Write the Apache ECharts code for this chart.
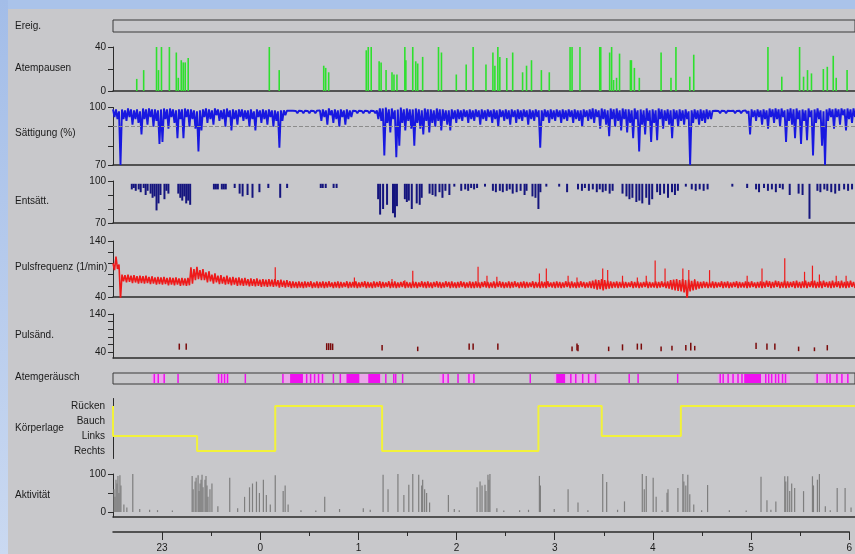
<!DOCTYPE html>
<html>
<head>
<meta charset="utf-8">
<script src="https://cdn.jsdelivr.net/npm/echarts@6/dist/echarts.min.js"></script>
<style>
    html, body { margin: 0; padding: 0; }
    #main { width: 855px; height: 554px; }
</style>
</head>
<body>
<div id="main"></div>
<script>
// Zeit in Stunden (24 = 0 Uhr, 25 = 1 Uhr ...)
const timeMin = 22.5;
const timeMax = 30;
const hourTicks = [23, 24, 25, 26, 27, 28, 29, 30];
const halfHourTicks = [23.5, 24.5, 25.5, 26.5, 27.5, 28.5, 29.5];

// Atempausen [Zeit, Dauer]
const apneaData = [
    [22.74, 11], [22.81, 19], [22.94, 40], [22.96, 19], [22.99, 40], [23.07, 40], [23.14, 35], [23.16, 12],
    [23.19, 28], [23.21, 26], [23.23, 26], [23.26, 30], [24.08, 40], [24.18, 19], [24.63, 23], [24.65, 21],
    [24.68, 17], [25.06, 37], [25.08, 40], [25.11, 40], [25.19, 27], [25.21, 26], [25.26, 19], [25.32, 17],
    [25.34, 15], [25.37, 15], [25.45, 40], [25.46, 28], [25.53, 40], [25.56, 27], [25.58, 25], [25.63, 31],
    [25.79, 40], [25.82, 35], [25.97, 15], [26.07, 24], [26.14, 40], [26.27, 24], [26.34, 35], [26.36, 23],
    [26.39, 40], [26.41, 31], [26.48, 30], [26.54, 35], [26.64, 17], [26.68, 23], [26.73, 28], [26.83, 19],
    [26.91, 17], [27.12, 40], [27.14, 40], [27.22, 40], [27.42, 40], [27.43, 40], [27.52, 35], [27.54, 40],
    [27.56, 10], [27.59, 12], [27.62, 34], [27.73, 28], [27.74, 28], [27.77, 21], [27.82, 12], [28.04, 35],
    [28.14, 12], [28.19, 40], [28.33, 13], [28.37, 33], [29.12, 40], [29.26, 13], [29.44, 40], [29.48, 13],
    [29.52, 19], [29.56, 16], [29.68, 20], [29.72, 22], [29.78, 32], [29.81, 12], [29.92, 19]
];

// Sättigung (%): Höchst- und Tiefstwert je Abschnitt von 1/33 h ab 22:30
const sampleStart = 22.5;
const sampleStep = 1 / 33;
const satHigh = [
    99, 99, 98, 99, 98.5, 99.5, 99, 98.5, 99, 98,
    99.5, 99, 99.5, 99, 99, 98.5, 99, 99.5, 99, 99.5,
    99, 98.5, 99, 99, 99.5, 99, 99, 98.5, 98, 98.5,
    99, 99.5, 99, 98.5, 99.5, 99, 98.5, 99, 99.5, 98.5,
    99, 98.5, 99, 99, 98.5, 98.5, 99, 98, 99, 98.5,
    99, 98.5, 99, 98.5, 98.5, 98, 98.5, 98.5, 98.3, 98.3,
    98.3, 98.2, 98.3, 98.2, 98.3, 98.2, 98.3, 98.2, 98.3, 98.5,
    99, 98.5, 99.5, 98.5, 99, 98.5, 99, 98.5, 99, 98.5,
    98.3, 98.2, 98.3, 98.2, 98.3, 98.2, 98.3, 98.2, 98.5, 99.5,
    99.5, 100, 99, 99.5, 98.5, 99, 100, 99, 99.5, 99,
    99, 99.5, 99, 98.5, 99.5, 99, 99, 98.5, 99.5, 99,
    99, 98.5, 98.5, 99, 98.5, 99, 98.5, 99, 98.5, 99,
    98.5, 99, 98.5, 99, 98.5, 99, 98.5, 99, 98.5, 99,
    98.5, 99, 98.5, 99, 98.5, 99, 98.5, 99, 98.5, 99,
    98.5, 99, 98.5, 98.5, 99, 98.5, 99, 98.5, 99, 98.5,
    99, 98.5, 99, 98.5, 99, 98.5, 98.5, 99, 98.5, 99,
    99.5, 99, 98.5, 99.5, 99, 98.5, 99.5, 99, 99.5, 98.5,
    99.5, 99, 99, 98.5, 99.5, 98.5, 99, 98.5, 99.5, 98.5,
    99, 98.5, 99.5, 99, 98.5, 99, 98.5, 99, 98.5, 99,
    98.5, 99, 98, 98.5, 99, 98.5, 99, 98.5, 99, 98.5,
    98.2, 98.3, 98.2, 98.3, 98.2, 98.3, 98.2, 98.3, 98.2, 98.3,
    98.2, 98.5, 98.2, 99, 98.5, 99, 98.5, 99, 98.5, 99.5,
    99, 99.5, 99, 99.5, 98.5, 99, 99.5, 99, 99.5, 98.5,
    99, 98.5, 99.5, 98.5, 99, 99.5, 98.5, 98, 99, 99.5,
    99, 99.5, 99, 99.5, 99, 99.5, 99, 99.5
];
const satLow = [
    95, 94, 70, 94, 93, 95, 91, 94, 92, 86,
    94, 91, 95, 90, 93, 81, 82, 94, 89, 95,
    92, 84, 94, 84, 95, 90, 94, 89, 77, 88,
    95, 92, 94, 91, 96, 93, 94, 90, 95, 88,
    94, 91, 95, 93, 94, 90, 94, 88, 95, 92,
    94, 91, 95, 90, 93, 79, 93, 96, 97.3, 97.3,
    97.3, 97, 97.3, 97, 97.3, 97, 97.3, 97, 97.3, 93,
    95, 91, 96, 92, 94, 90, 95, 91, 94, 95,
    97.3, 97, 97.3, 97, 97.3, 97, 97.3, 97, 94, 93,
    75, 92, 87, 94, 74, 80, 92, 88, 93, 89,
    80, 92, 89, 86, 93, 87, 92, 90, 93, 88,
    93, 91, 88, 94, 92, 94, 93, 95, 92, 94,
    93, 95, 91, 94, 93, 95, 92, 94, 90, 95,
    93, 94, 91, 95, 92, 94, 93, 95, 91, 94,
    93, 95, 79, 93, 95, 92, 94, 93, 95, 92,
    94, 93, 95, 92, 94, 93, 90, 95, 93, 94,
    92, 95, 89, 94, 91, 85, 94, 90, 93, 88,
    94, 87, 92, 84, 94, 77, 91, 86, 93, 82,
    92, 83, 94, 89, 93, 91, 84, 94, 90, 93,
    91, 94, 70, 92, 94, 91, 93, 92, 94, 94,
    97.3, 97.3, 97, 97.3, 97, 97.3, 97.3, 97, 97.3, 97,
    97.3, 97, 86, 95, 93, 95, 91, 94, 89, 95,
    92, 94, 90, 95, 82, 93, 91, 84, 94, 81,
    93, 83, 95, 75, 92, 94, 80, 70, 93, 95,
    89, 95, 91, 96, 88, 94, 92, 95
];
const satLimit = 90;

// Entsättigungen [Zeit, Nadir]
const desatTop = 98;
const desatData = [
    [22.69, 94], [22.71, 95], [22.73, 93], [22.76, 94], [22.78, 92], [22.81, 95], [22.83, 90], [22.85, 93],
    [22.88, 91], [22.90, 88], [22.92, 89], [22.94, 79], [22.96, 84], [22.98, 90], [23.02, 87], [23.04, 93],
    [23.06, 91], [23.16, 91], [23.18, 88], [23.20, 86], [23.22, 89], [23.24, 84], [23.26, 86], [23.28, 83],
    [23.52, 94], [23.54, 94], [23.56, 94], [23.60, 94], [23.62, 94], [23.64, 94], [23.73, 95], [23.78, 91],
    [23.81, 89], [23.86, 90], [23.91, 88], [23.98, 92], [24.07, 95], [24.19, 88], [24.26, 95], [24.60, 95],
    [24.62, 95], [24.65, 95], [24.73, 95], [24.76, 95], [25.18, 87], [25.20, 76], [25.23, 80], [25.27, 83],
    [25.33, 77], [25.35, 74], [25.37, 82], [25.45, 87], [25.47, 85], [25.49, 86], [25.52, 80], [25.57, 84],
    [25.60, 83], [25.62, 88], [25.70, 91], [25.73, 90], [25.76, 89], [25.80, 92], [25.83, 88], [25.86, 93],
    [25.90, 90], [25.95, 96], [26.02, 93], [26.06, 94], [26.09, 93], [26.12, 95], [26.15, 94], [26.18, 95],
    [26.26, 96], [26.34, 93], [26.37, 92], [26.41, 93], [26.44, 92], [26.48, 93], [26.51, 94], [26.54, 91],
    [26.58, 92], [26.62, 93], [26.66, 90], [26.68, 93], [26.74, 89], [26.77, 88], [26.80, 80], [26.82, 92],
    [26.88, 96], [27.01, 96], [27.09, 92], [27.20, 94], [27.24, 93], [27.27, 95], [27.31, 93], [27.35, 94],
    [27.39, 92], [27.42, 94], [27.45, 92], [27.48, 93], [27.52, 91], [27.55, 93], [27.65, 91], [27.69, 89],
    [27.72, 87], [27.75, 88], [27.79, 85], [27.82, 86], [27.85, 84], [27.89, 88], [27.92, 83], [27.95, 87],
    [28.00, 92], [28.03, 90], [28.07, 91], [28.11, 88], [28.15, 92], [28.18, 90], [28.21, 93], [28.29, 96],
    [28.35, 94], [28.39, 93], [28.43, 94], [28.47, 93], [28.51, 94], [28.76, 96], [28.91, 95], [29.00, 94],
    [29.03, 92], [29.08, 95], [29.12, 93], [29.16, 94], [29.20, 92], [29.24, 95], [29.27, 94], [29.34, 90],
    [29.43, 91], [29.47, 90], [29.54, 73], [29.62, 93], [29.65, 92], [29.69, 94], [29.72, 93], [29.76, 92],
    [29.80, 91], [29.84, 93], [29.89, 94], [29.93, 93], [29.97, 94]
];

// Pulsfrequenz (1/min): Höchst- und Tiefstwert je Abschnitt
const pulseHigh = [
    100, 112, 98, 80, 79, 80, 78, 79, 77, 78,
    77, 78, 76, 77, 75, 76, 75, 76, 74, 75,
    74, 75, 73, 74, 73, 74, 93, 90, 94, 88,
    90, 84, 86, 80, 82, 78, 79, 76, 78, 75,
    76, 74, 75, 73, 74, 72, 73, 72, 73, 71,
    72, 71, 72, 71, 72, 70, 71, 69, 70, 68,
    68, 67, 68, 67, 68, 67, 68, 66, 68, 67,
    68, 67, 68, 66, 67, 68, 67, 66, 68, 67,
    67, 68, 66, 67, 68, 67, 66, 68, 67, 68,
    67, 66, 68, 67, 68, 66, 67, 68, 67, 66,
    68, 67, 66, 68, 67, 68, 66, 67, 68, 67,
    66, 68, 67, 68, 66, 67, 68, 67, 66, 68,
    67, 68, 66, 67, 68, 67, 66, 68, 67, 68,
    67, 66, 68, 67, 68, 66, 67, 68, 67, 66,
    68, 67, 66, 68, 67, 68, 66, 67, 68, 67,
    66, 68, 67, 68, 66, 67, 68, 67, 66, 68,
    69, 71, 70, 72, 70, 69, 68, 67, 68, 67,
    68, 67, 66, 68, 67, 68, 66, 67, 68, 67,
    66, 68, 67, 68, 66, 68, 70, 71, 72, 70,
    72, 70, 71, 69, 70, 68, 67, 68, 67, 66,
    68, 67, 66, 68, 67, 68, 66, 67, 68, 67,
    66, 68, 67, 68, 66, 67, 68, 67, 69, 68,
    67, 69, 68, 67, 69, 68, 67, 68, 69, 67,
    68, 69, 67, 68, 69, 67, 68, 69, 67, 68,
    69, 67, 68, 69, 67, 68, 69, 67
];
const pulseLow = [
    88, 90, 36, 68, 66, 67, 65, 66, 64, 65,
    64, 65, 63, 64, 62, 63, 62, 63, 61, 62,
    61, 62, 60, 61, 60, 61, 64, 70, 72, 70,
    70, 66, 68, 64, 66, 63, 64, 62, 63, 61,
    62, 60, 61, 60, 61, 59, 60, 59, 60, 58,
    59, 58, 59, 58, 59, 57, 58, 57, 58, 56,
    57, 56, 57, 56, 57, 58, 56, 57, 56, 57,
    56, 57, 58, 56, 57, 56, 57, 58, 56, 57,
    57, 56, 57, 58, 56, 57, 56, 57, 58, 56,
    57, 58, 56, 57, 56, 57, 58, 56, 57, 56,
    57, 56, 58, 57, 56, 57, 56, 58, 57, 56,
    57, 58, 56, 57, 56, 57, 58, 56, 57, 56,
    56, 57, 56, 58, 57, 56, 57, 56, 58, 57,
    56, 57, 56, 57, 58, 56, 57, 56, 57, 58,
    56, 57, 56, 57, 56, 58, 57, 56, 57, 56,
    57, 58, 56, 57, 56, 57, 58, 56, 57, 56,
    55, 53, 54, 52, 54, 55, 56, 57, 56, 57,
    56, 57, 58, 56, 57, 56, 57, 58, 56, 57,
    57, 56, 57, 58, 56, 55, 53, 52, 51, 50,
    48, 36, 50, 52, 53, 55, 56, 57, 56, 57,
    56, 57, 58, 56, 57, 56, 57, 58, 56, 57,
    57, 56, 57, 58, 56, 57, 56, 57, 58, 56,
    57, 58, 56, 57, 56, 57, 58, 56, 57, 56,
    57, 56, 58, 57, 56, 57, 56, 58, 57, 56,
    57, 58, 56, 57, 56, 57, 58, 56
];
// Pulsspitzen [Zeit, Puls]
const pulseBase = 62;
const pulsePeaks = [
    [24.14, 93], [24.94, 75], [25.32, 72], [25.45, 70], [25.53, 87], [26.19, 94], [26.28, 78], [26.38, 76],
    [26.81, 82], [26.88, 91], [27.10, 78], [27.19, 75], [27.45, 91], [27.50, 88], [27.65, 78], [27.80, 75],
    [27.89, 78], [27.98, 105], [28.08, 91], [28.26, 91], [28.32, 88], [28.38, 72], [28.53, 88], [28.91, 78],
    [29.06, 91], [29.29, 109], [29.49, 85], [29.57, 96], [29.64, 80], [29.81, 78], [29.91, 78]
];

// Pulsänderungen [Zeit, von, bis]
const pulseChangeData = [
    [23.17, 46, 62], [23.24, 46, 62], [24.66, 45, 63], [24.68, 45, 63], [24.70, 45, 63], [24.72, 45, 62],
    [25.22, 44, 58], [25.58, 42, 54], [26.10, 46, 62], [26.14, 46, 62], [26.39, 46, 62], [27.14, 42, 54],
    [27.19, 44, 62], [27.20, 42, 58], [27.51, 42, 54], [27.65, 44, 60], [27.80, 46, 62], [27.84, 46, 62],
    [28.04, 42, 54], [28.15, 44, 56], [28.29, 44, 58], [28.34, 44, 64], [28.38, 44, 56], [29.00, 48, 64],
    [29.11, 46, 62], [29.19, 46, 62], [29.43, 42, 54], [29.59, 42, 52], [29.72, 44, 58]
];

// Atemgeräusch: Phasen und Ereignisse [Beginn, Ende]
const snorePhases = [
    [22.89, 23.03], [23.54, 23.67], [24.22, 24.64], [24.79, 25.22], [25.80, 25.90],
    [26.07, 26.16], [26.96, 27.42], [28.61, 29.34], [29.59, 29.94]
];
const snoreEvents = [
    [22.91, 22.91], [22.95, 22.95], [23.01, 23.01], [23.15, 23.15], [23.56, 23.56], [23.59, 23.59],
    [23.62, 23.62], [23.65, 23.65], [23.83, 23.83], [24.21, 24.21], [24.29, 24.42], [24.45, 24.45],
    [24.49, 24.49], [24.53, 24.53], [24.57, 24.57], [24.61, 24.61], [24.72, 24.72], [24.79, 24.79],
    [24.86, 24.99], [25.08, 25.20], [25.25, 25.25], [25.33, 25.33], [25.35, 25.35], [25.42, 25.42],
    [25.83, 25.83], [25.88, 25.88], [25.98, 25.98], [26.09, 26.09], [26.14, 26.14], [26.71, 26.71],
    [26.98, 27.07], [27.12, 27.12], [27.17, 27.17], [27.24, 27.24], [27.30, 27.30], [27.37, 27.37],
    [27.71, 27.71], [27.80, 27.80], [28.20, 28.20], [28.63, 28.63], [28.66, 28.66], [28.71, 28.71],
    [28.76, 28.76], [28.81, 28.81], [28.85, 28.85], [28.88, 29.05], [29.09, 29.09], [29.12, 29.12],
    [29.15, 29.15], [29.19, 29.19], [29.22, 29.22], [29.26, 29.26], [29.29, 29.29], [29.61, 29.61],
    [29.71, 29.71], [29.74, 29.74], [29.81, 29.81], [29.86, 29.86], [29.92, 29.92]
];

// Körperlage
const positionNames = ['Rechts', 'Links', 'Bauch', 'Rücken'];
const positionTimes = [22.5, 23.35, 24.14, 25.22, 26.80, 27.44, 28.24, 29.49, 30];
const positionValues = ['Rücken', 'Links', 'Rechts', 'Rücken', 'Rechts', 'Rücken', 'Links', 'Rücken', 'Rücken'];

// Aktivität [Zeit, Wert]
const activityData = [
    [22.51, 60], [22.52, 40], [22.53, 85], [22.54, 75], [22.55, 95], [22.56, 50], [22.57, 97], [22.58, 70],
    [22.61, 20], [22.64, 12], [22.70, 100], [22.77, 8], [22.87, 6], [22.95, 5], [23.10, 4], [23.30, 95],
    [23.31, 60], [23.33, 80], [23.34, 90], [23.36, 97], [23.37, 55], [23.38, 75], [23.39, 85], [23.40, 98],
    [23.41, 65], [23.43, 85], [23.44, 95], [23.45, 70], [23.46, 40], [23.48, 60], [23.50, 75], [23.56, 15],
    [23.68, 90], [23.76, 10], [23.83, 40], [23.88, 65], [23.91, 75], [23.95, 80], [23.98, 50], [24.02, 85],
    [24.05, 45], [24.09, 20], [24.14, 97], [24.22, 55], [24.24, 70], [24.27, 20], [24.40, 5], [24.55, 4],
    [24.64, 40], [24.79, 8], [25.03, 10], [25.10, 6], [25.23, 98], [25.28, 60], [25.38, 100], [25.44, 45],
    [25.49, 72], [25.53, 100], [25.59, 98], [25.62, 70], [25.63, 85], [25.65, 60], [25.67, 50], [25.70, 25],
    [25.89, 45], [25.95, 8], [26.00, 5], [26.18, 65], [26.21, 80], [26.23, 70], [26.26, 72], [26.27, 55],
    [26.29, 98], [26.30, 85], [26.31, 100], [26.38, 10], [26.45, 4], [26.61, 5], [26.70, 6], [26.81, 95],
    [26.82, 70], [26.96, 8], [27.10, 60], [27.20, 25], [27.30, 5], [27.45, 100], [27.49, 79], [27.60, 6],
    [27.67, 28], [27.85, 100], [27.87, 60], [27.89, 95], [27.96, 90], [27.99, 40], [28.05, 4], [28.10, 51],
    [28.11, 60], [28.21, 63], [28.26, 100], [28.27, 80], [28.29, 70], [28.31, 98], [28.33, 47], [28.37, 20],
    [28.45, 5], [28.51, 71], [28.73, 5], [28.90, 4], [29.05, 93], [29.11, 31], [29.15, 6], [29.20, 28],
    [29.29, 94], [29.30, 80], [29.32, 94], [29.34, 55], [29.36, 75], [29.39, 63], [29.48, 55], [29.57, 94],
    [29.58, 70], [29.62, 85], [29.64, 100], [29.70, 15], [29.75, 5], [29.82, 63], [29.90, 63], [29.96, 12]
];

const FONT = 'Liberation Sans, Arial, sans-serif';
const AXIS_COLOR = '#2b2b2b';
const TEXT_COLOR = '#1a1a1a';

/**
 * senkrechte Linie je Datenpunkt (von base bis Wert oder von Wert 1 bis Wert 2)
 */
function verticalLines(color, width, base) {
    return function (params, api) {
        let from = base !== undefined ? base : api.value(1);
        let to = base !== undefined ? api.value(1) : api.value(2);
        let p0 = api.coord([api.value(0), from]);
        let p1 = api.coord([api.value(0), to]);
        return {
            type: 'line',
            shape: {x1: p0[0], y1: p0[1], x2: p1[0], y2: p1[1]},
            style: {stroke: color, lineWidth: width}
        };
    };
}

/**
 * Zeitabschnitte als Balken in einem Streifen
 */
function timeBands(color, minWidth) {
    return function (params, api) {
        let p0 = api.coord([api.value(0), 1]);
        let p1 = api.coord([api.value(1), 0]);
        return {
            type: 'rect',
            shape: {x: p0[0], y: p0[1] + 1, width: Math.max(p1[0] - p0[0], minWidth), height: p1[1] - p0[1] - 2},
            style: {fill: color}
        };
    };
}

/**
 * Signalverlauf: je Abschnitt Höchstwert, dann Tiefstwert in der Mitte des Abschnitts
 */
function zigzag(high, low) {
    let points = [];
    high.forEach(function (h, i) {
        let t = sampleStart + i * sampleStep;
        points.push([t, h]);
        points.push([t + sampleStep / 2, low[i]]);
    });
    return points;
}

function plainX(gridIndex, showLine) {
    return {
        type: 'value', gridIndex: gridIndex, min: timeMin, max: timeMax,
        axisLine: {show: showLine, onZero: false, lineStyle: {color: AXIS_COLOR, width: 1.5}},
        axisTick: {show: false}, axisLabel: {show: false}, splitLine: {show: false}
    };
}

function valueY(gridIndex, min, max, ticks, labels) {
    return {
        type: 'value', gridIndex: gridIndex, min: min, max: max,
        axisLine: {show: true, onZero: false, lineStyle: {color: AXIS_COLOR, width: 1}},
        axisTick: {show: true, customValues: ticks, length: 5, lineStyle: {color: AXIS_COLOR}},
        axisLabel: {customValues: labels, fontSize: 10, color: TEXT_COLOR, fontFamily: FONT, margin: 7},
        splitLine: {show: false}
    };
}

function hiddenY(gridIndex) {
    return {type: 'value', gridIndex: gridIndex, min: 0, max: 1, show: false};
}

function panelLabel(text, y) {
    return {
        type: 'text', left: 15, top: y - 6,
        style: {text: text, fill: TEXT_COLOR, font: '10px ' + FONT}
    };
}

let option = {
    animation: false,
    backgroundColor: '#c8c8cb',
    textStyle: {fontFamily: FONT},
    graphic: [
        {type: 'rect', shape: {x: 0, y: 0, width: 855, height: 9}, style: {fill: '#aac3ea'}},
        {
            type: 'rect', shape: {x: 0, y: 0, width: 8, height: 554},
            style: {
                fill: {
                    type: 'linear', x: 0, y: 0, x2: 0, y2: 1,
                    colorStops: [{offset: 0, color: '#a3bde8'}, {offset: 1, color: '#cad9f1'}]
                }
            }
        },
        panelLabel('Ereig.', 27),
        panelLabel('Atempausen', 69),
        panelLabel('Sättigung (%)', 134),
        panelLabel('Entsätt.', 202),
        panelLabel('Pulsfrequenz (1/min)', 268),
        panelLabel('Pulsänd.', 336),
        panelLabel('Atemgeräusch', 378),
        panelLabel('Körperlage', 429),
        panelLabel('Aktivität', 496)
    ],
    grid: [
        {left: 113, right: -2, top: 20, height: 12, show: true, borderColor: '#3a3a3a', borderWidth: 1},
        {left: 113, right: 0, top: 47, height: 44},
        {left: 113, right: 0, top: 107.5, height: 57.5},
        {left: 113, right: 0, top: 181, height: 42},
        {left: 113, right: 0, top: 241, height: 56},
        {left: 113, right: 0, top: 314, height: 44},
        {left: 113, right: -2, top: 373, height: 11, show: true, borderColor: '#3a3a3a', borderWidth: 1},
        {left: 113, right: 0, top: 398.5, height: 60},
        {left: 113, right: 0, top: 474, height: 43},
        {left: 113, right: 0, top: 531, height: 1}
    ],
    xAxis: [
        plainX(0, false),
        plainX(1, true),
        plainX(2, true),
        plainX(3, true),
        plainX(4, true),
        plainX(5, true),
        plainX(6, false),
        plainX(7, false),
        plainX(8, true),
        {
            type: 'value', gridIndex: 9, min: timeMin, max: timeMax, position: 'bottom',
            axisLine: {show: true, onZero: false, lineStyle: {color: AXIS_COLOR, width: 1.5}},
            axisTick: {show: true, customValues: hourTicks, length: 8, lineStyle: {color: AXIS_COLOR}},
            axisLabel: {
                customValues: hourTicks, fontSize: 10, color: TEXT_COLOR, fontFamily: FONT, margin: 11,
                formatter: function (v) { return String(v % 24); }
            },
            splitLine: {show: false}
        },
        {
            type: 'value', gridIndex: 9, min: timeMin, max: timeMax, position: 'bottom', offset: 0,
            axisLine: {show: false, onZero: false},
            axisTick: {show: true, customValues: halfHourTicks, length: 4, lineStyle: {color: AXIS_COLOR}},
            axisLabel: {show: false},
            splitLine: {show: false}
        }
    ],
    yAxis: [
        hiddenY(0),
        valueY(1, 0, 40, [0, 20, 40], [0, 40]),
        valueY(2, 70, 100, [70, 80, 90, 100], [70, 100]),
        valueY(3, 70, 100, [70, 80, 90, 100], [70, 100]),
        valueY(4, 40, 140, [40, 60, 80, 100, 120, 140], [40, 140]),
        valueY(5, 24, 140, [40, 60, 80, 100, 120, 140], [40, 140]),
        hiddenY(6),
        {
            type: 'category', gridIndex: 7, data: positionNames,
            axisLine: {show: true, onZero: false, lineStyle: {color: AXIS_COLOR}},
            axisTick: {show: false},
            axisLabel: {fontSize: 10, color: TEXT_COLOR, fontFamily: FONT, margin: 8},
            splitLine: {show: false}
        },
        valueY(8, -13, 100, [0, 50, 100], [0, 100]),
        hiddenY(9)
    ],
    series: [
        {
            name: 'Atempausen', type: 'custom', xAxisIndex: 1, yAxisIndex: 1,
            renderItem: verticalLines('#2ee02e', 1.6, 0), data: apneaData
        },
        {
            name: 'Sättigung', type: 'line', xAxisIndex: 2, yAxisIndex: 2, showSymbol: false,
            lineStyle: {color: '#1818e0', width: 1.9},
            data: zigzag(satHigh, satLow),
            markLine: {
                silent: true, symbol: 'none', label: {show: false},
                lineStyle: {color: '#8c8c8c', type: 'dashed', width: 1},
                data: [{yAxis: satLimit}]
            }
        },
        {
            name: 'Entsättigung', type: 'custom', xAxisIndex: 3, yAxisIndex: 3,
            renderItem: verticalLines('#15157e', 2, desatTop), data: desatData
        },
        {
            name: 'Pulsfrequenz', type: 'line', xAxisIndex: 4, yAxisIndex: 4, showSymbol: false,
            lineStyle: {color: '#ee1a1a', width: 1.6},
            data: zigzag(pulseHigh, pulseLow)
        },
        {
            name: 'Pulsspitzen', type: 'custom', xAxisIndex: 4, yAxisIndex: 4,
            renderItem: verticalLines('#ee1a1a', 1.2, pulseBase), data: pulsePeaks
        },
        {
            name: 'Pulsänderung', type: 'custom', xAxisIndex: 5, yAxisIndex: 5,
            encode: {x: 0, y: [1, 2]},
            renderItem: verticalLines('#7a0a0a', 1.5), data: pulseChangeData
        },
        {
            name: 'Atemgeräusch Phase', type: 'custom', xAxisIndex: 6, yAxisIndex: 6,
            encode: {x: [0, 1]},
            renderItem: timeBands('#e9a6e9', 1), data: snorePhases
        },
        {
            name: 'Atemgeräusch', type: 'custom', xAxisIndex: 6, yAxisIndex: 6,
            encode: {x: [0, 1]},
            renderItem: timeBands('#f010f0', 1.5), data: snoreEvents
        },
        {
            name: 'Körperlage', type: 'line', xAxisIndex: 7, yAxisIndex: 7, step: 'end', showSymbol: false,
            lineStyle: {color: '#f2f23a', width: 2},
            data: positionTimes.map(function (t, i) { return [t, positionValues[i]]; })
        },
        {
            name: 'Aktivität', type: 'custom', xAxisIndex: 8, yAxisIndex: 8,
            renderItem: verticalLines('#7e7e7e', 1.2, 0), data: activityData
        }
    ]
};

let chart = echarts.init(document.getElementById('main'));
chart.setOption(option);
</script>
</body>
</html>
